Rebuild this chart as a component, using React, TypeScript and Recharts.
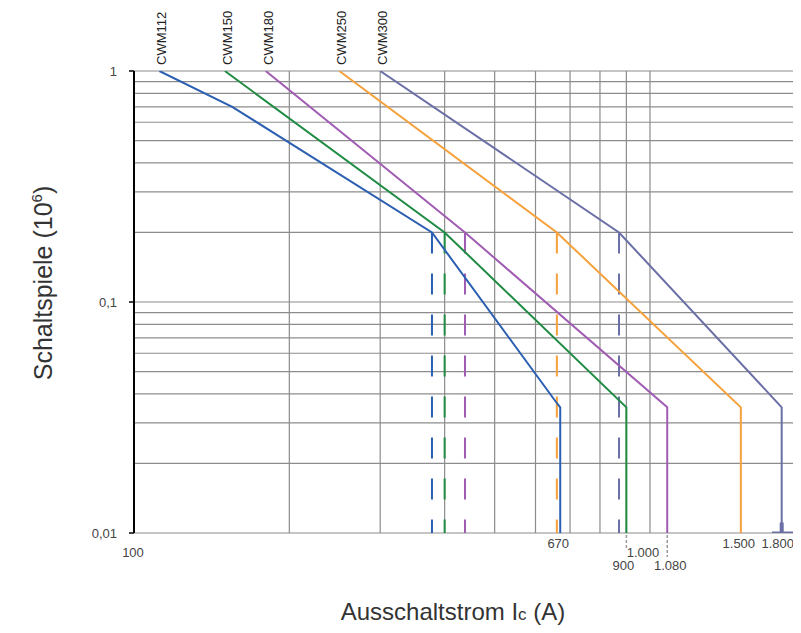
import React from 'react';
import { LineChart, Line, XAxis, YAxis, CartesianGrid, LabelList } from 'recharts';

// ---- data ----
const xDomain = [100, 1962];
const yDomain = [0.01, 1];
const yTicks = [0.01, 0.1, 1];
const xTicks = [100, 670, 900, 1000, 1080, 1500, 1800];
const gridX = [200, 300, 400, 500, 600, 700, 800, 900, 1000];
const gridY = [0.01, 0.02, 0.03, 0.04, 0.05, 0.06, 0.07, 0.08, 0.09, 0.1, 0.2, 0.3, 0.4, 0.5, 0.6, 0.7, 0.8, 0.9, 1];

const seriesNames = ['CWM112', 'CWM150', 'CWM180', 'CWM250', 'CWM300'];
const cwm112 = [
  { x: 112, y: 1 }, { x: 155, y: 0.7 }, { x: 378, y: 0.2 }, { x: 657, y: 0.037 }, { x: 670, y: 0.035 }, { x: 670, y: 0.01 },
];
const cwm150 = [{ x: 150, y: 1 }, { x: 400, y: 0.2 }, { x: 900, y: 0.035 }, { x: 900, y: 0.01 }];
const cwm180 = [{ x: 180, y: 1 }, { x: 438, y: 0.2 }, { x: 1080, y: 0.035 }, { x: 1080, y: 0.01 }];
const cwm250 = [{ x: 250, y: 1 }, { x: 660, y: 0.2 }, { x: 1500, y: 0.035 }, { x: 1500, y: 0.01 }];
const cwm300 = [{ x: 300, y: 1 }, { x: 871, y: 0.2 }, { x: 1800, y: 0.035 }, { x: 1800, y: 0.01 }];

const kneeCurrents = [378, 400, 438, 660, 871];
const kneeLevel = 0.2;
const floorLevel = 0.01;

const endStop = [{ x: 1723, y: 0.01 }, { x: 1893, y: 0.01 }];
const endStem = [{ x: 1800, y: 0.01 }, { x: 1800, y: 0.0111 }];

// ---- styles ----
const colors = ['#2c5fb1', '#1f8b43', '#a05cb3', '#f6a13b', '#6a6fa6'];
const FONT = 'Liberation Sans, Arial, Helvetica, sans-serif';
const seriesData = [cwm112, cwm150, cwm180, cwm250, cwm300];

const tickOffset: Record<number, { dx: number; dy: number; lead?: number }> = {
  100: { dx: -1, dy: 19 },
  670: { dx: -2, dy: 10 },
  900: { dx: -3, dy: 32, lead: 16 },
  1000: { dx: -7, dy: 19 },
  1080: { dx: 3, dy: 32, lead: 24 },
  1500: { dx: -2, dy: 10 },
  1800: { dx: -4, dy: 10 },
};

const fmtThousands = (v: number) => String(v).replace(/\B(?=(\d{3})+(?!\d))/g, '.');

const XTick = (props: any) => {
  const { x, y, payload } = props;
  const v = payload.value as number;
  const o = tickOffset[v] || { dx: 0, dy: 10 };
  return (
    <g>
      {o.lead ? (
        <line x1={x} x2={x} y1={y + 2} y2={y + o.lead} stroke="#9a9a9a" strokeWidth={1.5} strokeDasharray="3 2" />
      ) : null}
      <text x={x + o.dx} y={y + o.dy} textAnchor="middle" dominantBaseline="central" fill="#444" fontSize={13} fontFamily={FONT}>
        {fmtThousands(v)}
      </text>
    </g>
  );
};

const makeTopLabel = (name: string) => (p: any) => {
  if (p.index !== 0) return <g />;
  const bx = (p.viewBox && p.viewBox.x != null ? p.viewBox.x : p.x) + 7;
  const by = (p.viewBox && p.viewBox.y != null ? p.viewBox.y : p.y) - 6;
  return (
    <text x={bx} y={by} transform={`rotate(-90 ${bx} ${by})`} textAnchor="start" fill="#222" fontSize={13} fontFamily={FONT}>
      {name}
    </text>
  );
};

const W = 793;
const H = 617;

export default function App() {
  return (
    <div style={{ position: 'relative', width: W, height: H }}>
      <LineChart width={W} height={H} margin={{ top: 63, right: 0, bottom: 0, left: 0 }}>
        <CartesianGrid
          horizontalValues={gridY}
          verticalValues={gridX}
          stroke="#8c8c8c"
          strokeWidth={1.2}
          fill="none"
        />
        <XAxis
          dataKey="x"
          type="number"
          scale="log"
          domain={xDomain}
          allowDataOverflow
          ticks={xTicks}
          tick={<XTick />}
          tickLine={false}
          axisLine={false}
          tickSize={0}
          tickMargin={0}
          height={92}
          interval={0}
        />
        <YAxis
          type="number"
          scale="log"
          domain={yDomain}
          allowDataOverflow
          ticks={yTicks}
          width={126}
          tickSize={5}
          tickMargin={12}
          tickLine={{ stroke: '#000', strokeWidth: 1.5 }}
          axisLine={{ stroke: '#000', strokeWidth: 2 }}
          tick={{ fill: '#444', fontSize: 13, fontFamily: FONT }}
          tickFormatter={(v: number) => String(v).replace('.', ',')}
          interval={0}
        />
        {kneeCurrents.map((k, i) => (
          <Line
            key={'dash' + i}
            data={[{ x: k, y: kneeLevel }, { x: k, y: floorLevel }]}
            dataKey="y"
            stroke={colors[i]}
            strokeWidth={2}
            strokeDasharray="21 20"
            dot={false}
            activeDot={false}
            isAnimationActive={false}
          />
        ))}
        {seriesData.map((d, i) => (
          <Line
            key={seriesNames[i]}
            data={d}
            dataKey="y"
            type="linear"
            stroke={colors[i]}
            strokeWidth={2}
            dot={false}
            activeDot={false}
            isAnimationActive={false}
          >
            <LabelList dataKey="y" content={makeTopLabel(seriesNames[i])} />
          </Line>
        ))}
        <Line data={endStop} dataKey="y" stroke={colors[4]} strokeWidth={3} dot={false} activeDot={false} isAnimationActive={false} />
        <Line data={endStem} dataKey="y" stroke={colors[4]} strokeWidth={4} dot={false} activeDot={false} isAnimationActive={false} />
      </LineChart>
      <svg width={W} height={H} style={{ position: 'absolute', left: 0, top: 0, pointerEvents: 'none' }}>
        <text
          x={44}
          y={275}
          transform="rotate(-90 44 275)"
          textAnchor="middle"
          fill="#333"
          fontSize={25}
          fontFamily={FONT}
        >
          Schaltspiele (10<tspan fontSize={15} dy={-10}>6</tspan>
          <tspan dy={10}>)</tspan>
        </text>
        <text x={445} y={612} textAnchor="middle" fill="#333" fontSize={24} fontFamily={FONT}>
          Ausschaltstrom I<tspan fontSize={17}>c</tspan> (A)
        </text>
      </svg>
    </div>
  );
}
